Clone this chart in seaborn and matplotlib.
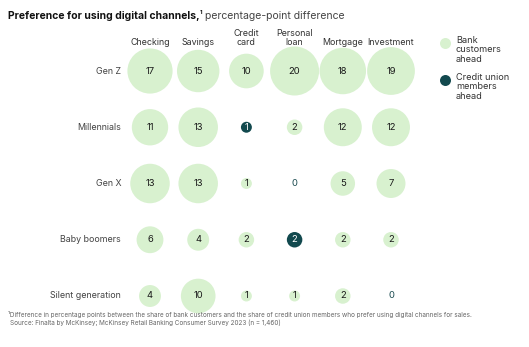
import matplotlib
matplotlib.use("Agg")
import matplotlib.pyplot as plt
import seaborn as sns
import pandas as pd

# Product columns and generation rows
products = ["Checking", "Savings", "Credit\ncard", "Personal\nloan", "Mortgage", "Investment"]
generations = ["Gen Z", "Millennials", "Gen X", "Baby boomers", "Silent generation"]

# Percentage-point difference per generation (rows) and product (columns)
gen_z = [17, 15, 10, 20, 18, 19]
millennials = [11, 13, 1, 2, 12, 12]
gen_x = [13, 13, 1, 0, 5, 7]
baby_boomers = [6, 4, 2, 2, 2, 2]
silent_gen = [4, 10, 1, 1, 2, 0]

# Which group is ahead: "bank" or "cu" (credit union)
gen_z_lead = ["bank"] * 6
millennials_lead = ["bank", "bank", "cu", "bank", "bank", "bank"]
gen_x_lead = ["bank"] * 6
baby_boomers_lead = ["bank", "bank", "bank", "cu", "bank", "bank"]
silent_gen_lead = ["bank"] * 6

values = [gen_z, millennials, gen_x, baby_boomers, silent_gen]
leads = [gen_z_lead, millennials_lead, gen_x_lead, baby_boomers_lead, silent_gen_lead]

rows = []
for gi, g in enumerate(generations):
    for pi, p in enumerate(products):
        rows.append({"gen": gi, "prod": pi, "value": values[gi][pi], "lead": leads[gi][pi]})
df = pd.DataFrame(rows)

LIGHT = "#d8f1cf"
DARK = "#12494e"

W, H = 529, 347
fig = plt.figure(figsize=(W / 100, H / 100), dpi=100)
sns.set_style("white")
plt.rcParams["font.family"] = ["Inter", "DejaVu Sans"]

# Axes spanning the bubble grid centres (pixel coordinates of first/last column and row)
x0, x1 = 150, 391
y0, y1 = 71, 296
ax = fig.add_axes([x0 / W, 1 - y1 / H, (x1 - x0) / W, (y1 - y0) / H])
ax.set_xlim(0, len(products) - 1)
ax.set_ylim(len(generations) - 1, 0)
ax.axis("off")

# Area proportional to value: 20 points -> ~49 px diameter
max_s = (49 * 0.72) ** 2
plot_df = df[df["value"] > 0]
sns.scatterplot(
    data=plot_df, x="prod", y="gen", size="value", hue="lead",
    palette={"bank": LIGHT, "cu": DARK},
    sizes=(0, max_s), size_norm=(0, 20),
    linewidth=0, legend=False, ax=ax, clip_on=False, zorder=2,
)

for _, r in df.iterrows():
    if r["value"] == 0:
        color = "#1d4d52"
    elif r["lead"] == "cu":
        color = "white"
    else:
        color = "#1a1a1a"
    ax.text(r["prod"], r["gen"], str(int(r["value"])), ha="center", va="center",
            fontsize=6.8, color=color, zorder=3)

def fx(px):
    return px / W

def fy(py):
    return 1 - py / H

# Row labels
for gi, g in enumerate(generations):
    yy = y0 + gi * (y1 - y0) / (len(generations) - 1)
    fig.text(fx(121), fy(yy), g, ha="right", va="center", fontsize=6.4, color="#444444")

# Column headers
for pi, p in enumerate(products):
    xx = x0 + pi * (x1 - x0) / (len(products) - 1)
    fig.text(fx(xx), fy(47), p, ha="center", va="bottom", fontsize=6.4,
             color="#333333", linespacing=1.05)

# Title, built from consecutive pieces
renderer = fig.canvas.get_renderer()
t1 = fig.text(fx(8), fy(16), "Preference for using digital channels,", ha="left", va="center",
              fontsize=7.5, fontweight="bold", color="#111111")
bb = t1.get_window_extent(renderer)
t2 = fig.text(bb.x1 / W, fy(13), "1", ha="left", va="center", fontsize=4.2,
              fontweight="bold", color="#111111")
bb2 = t2.get_window_extent(renderer)
fig.text(bb2.x1 / W + fx(2.5), fy(16), "percentage-point difference", ha="left", va="center",
         fontsize=7.5, color="#444444")

# Legend
ax_leg = fig.add_axes([0, 0, 1, 1], zorder=-1)
ax_leg.set_xlim(0, W)
ax_leg.set_ylim(H, 0)
ax_leg.axis("off")
leg_s = (11 * 0.72) ** 2
ax_leg.scatter([445], [43], s=leg_s, color=LIGHT, linewidth=0)
ax_leg.scatter([445], [80], s=leg_s, color=DARK, linewidth=0)
fig.text(fx(456), fy(36), "Bank\ncustomers\nahead", ha="left", va="top",
         fontsize=6.6, color="#333333", linespacing=1.05)
fig.text(fx(456), fy(73), "Credit union\nmembers\nahead", ha="left", va="top",
         fontsize=6.6, color="#333333", linespacing=1.05)

# Footnotes
fig.text(fx(8), fy(315), "\u00b9Difference in percentage points between the share of bank customers and the share of credit union members who prefer using digital channels for sales.",
         ha="left", va="center", fontsize=4.6, color="#666666")
fig.text(fx(10), fy(323), "Source: Finalta by McKinsey; McKinsey Retail Banking Consumer Survey 2023 (n = 1,460)",
         ha="left", va="center", fontsize=4.6, color="#666666")

fig.savefig("out.png", dpi=100, facecolor="white")
